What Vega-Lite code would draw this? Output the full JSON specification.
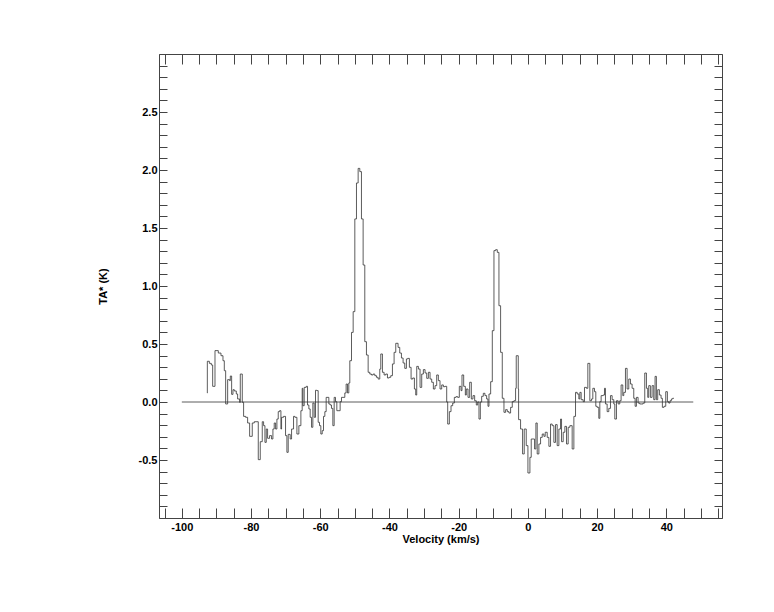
{
  "$schema": "https://vega.github.io/schema/vega-lite/v6.json",
  "width": 563,
  "height": 464,
  "autosize": {"type": "none"},
  "padding": {"left": 159, "top": 54, "right": 52, "bottom": 94},
  "background": "white",
  "config": {
    "view": {"stroke": null},
    "axis": {
      "grid": false,
      "domainColor": "#444444",
      "domainWidth": 1,
      "tickColor": "#444444",
      "tickWidth": 1,
      "labelFont": "Liberation Sans",
      "labelFontWeight": "bold",
      "labelFontSize": 11,
      "labelColor": "black",
      "titleFont": "Liberation Sans",
      "titleFontWeight": "bold",
      "titleFontSize": 11,
      "titleColor": "black"
    }
  },
  "datasets": {
    "spec": [
      {"v": -92.73, "T": 0.078}, {"v": -92.63, "T": 0.351}, {"v": -92.05, "T": 0.333}, {"v": -91.48, "T": 0.319},
      {"v": -91.09, "T": 0.135}, {"v": -90.42, "T": 0.443}, {"v": -89.46, "T": 0.422}, {"v": -88.69, "T": 0.399},
      {"v": -88.11, "T": 0.356}, {"v": -87.73, "T": 0.270}, {"v": -87.34, "T": -0.017}, {"v": -86.76, "T": 0.193},
      {"v": -86.19, "T": 0.184}, {"v": -85.99, "T": 0.224}, {"v": -85.61, "T": 0.066}, {"v": -85.22, "T": 0.106},
      {"v": -84.84, "T": 0.095}, {"v": -84.26, "T": 0.069}, {"v": -83.88, "T": 0.026}, {"v": -83.30, "T": -0.003},
      {"v": -83.11, "T": 0.241}, {"v": -82.53, "T": -0.003}, {"v": -82.15, "T": -0.124}, {"v": -81.57, "T": -0.132},
      {"v": -80.99, "T": -0.181}, {"v": -80.41, "T": -0.296}, {"v": -79.65, "T": -0.181}, {"v": -79.07, "T": -0.170},
      {"v": -77.91, "T": -0.497}, {"v": -77.34, "T": -0.342}, {"v": -76.76, "T": -0.170}, {"v": -76.37, "T": -0.204},
      {"v": -75.99, "T": -0.348}, {"v": -75.60, "T": -0.233}, {"v": -75.22, "T": -0.313}, {"v": -74.64, "T": -0.290},
      {"v": -74.07, "T": -0.319}, {"v": -73.68, "T": -0.233}, {"v": -73.30, "T": -0.181}, {"v": -72.91, "T": -0.233},
      {"v": -72.53, "T": -0.147}, {"v": -72.14, "T": -0.083}, {"v": -71.76, "T": -0.075}, {"v": -71.37, "T": -0.233},
      {"v": -71.18, "T": -0.132}, {"v": -70.60, "T": -0.124}, {"v": -70.03, "T": -0.290}, {"v": -69.64, "T": -0.434},
      {"v": -69.26, "T": -0.279}, {"v": -68.68, "T": -0.319}, {"v": -68.29, "T": -0.233}, {"v": -67.72, "T": -0.124},
      {"v": -67.33, "T": -0.132}, {"v": -66.75, "T": -0.276}, {"v": -66.18, "T": -0.204}, {"v": -65.60, "T": -0.075},
      {"v": -65.22, "T": 0.118}, {"v": -65.02, "T": -0.032}, {"v": -64.64, "T": 0.126}, {"v": -64.06, "T": 0.135},
      {"v": -63.68, "T": -0.026}, {"v": -63.29, "T": -0.060}, {"v": -62.91, "T": -0.132}, {"v": -62.52, "T": -0.218},
      {"v": -62.14, "T": -0.009}, {"v": -61.75, "T": -0.132}, {"v": -61.37, "T": 0.101}, {"v": -60.98, "T": 0.098},
      {"v": -60.60, "T": -0.175}, {"v": -60.21, "T": -0.204}, {"v": -59.83, "T": -0.276}, {"v": -59.44, "T": -0.247},
      {"v": -59.06, "T": -0.124}, {"v": -58.67, "T": -0.083}, {"v": -58.29, "T": 0.040}, {"v": -57.52, "T": -0.017},
      {"v": -57.13, "T": -0.026}, {"v": -56.75, "T": -0.055}, {"v": -56.36, "T": -0.204}, {"v": -55.98, "T": 0.040},
      {"v": -55.59, "T": 0.003}, {"v": -55.21, "T": -0.075}, {"v": -54.25, "T": 0.003}, {"v": -53.86, "T": 0.040},
      {"v": -52.90, "T": 0.078}, {"v": -52.52, "T": 0.155}, {"v": -52.13, "T": 0.078}, {"v": -51.75, "T": 0.164},
      {"v": -51.46, "T": 0.356}, {"v": -50.97, "T": 0.600}, {"v": -50.49, "T": 0.779}, {"v": -50.01, "T": 1.578},
      {"v": -49.53, "T": 1.888}, {"v": -49.05, "T": 2.014}, {"v": -48.57, "T": 1.986}, {"v": -48.09, "T": 1.578},
      {"v": -47.61, "T": 1.181}, {"v": -47.13, "T": 0.520}, {"v": -46.65, "T": 0.405}, {"v": -46.16, "T": 0.256},
      {"v": -45.68, "T": 0.241}, {"v": -45.20, "T": 0.233}, {"v": -44.72, "T": 0.241}, {"v": -44.24, "T": 0.227},
      {"v": -43.76, "T": 0.213}, {"v": -43.28, "T": 0.198}, {"v": -42.80, "T": 0.284}, {"v": -42.51, "T": 0.414},
      {"v": -42.03, "T": 0.256}, {"v": -41.55, "T": 0.233}, {"v": -41.07, "T": 0.241}, {"v": -40.58, "T": 0.207},
      {"v": -40.10, "T": 0.213}, {"v": -39.62, "T": 0.227}, {"v": -39.14, "T": 0.328}, {"v": -38.66, "T": 0.428},
      {"v": -38.18, "T": 0.506}, {"v": -37.51, "T": 0.471}, {"v": -37.03, "T": 0.422}, {"v": -36.54, "T": 0.379},
      {"v": -36.06, "T": 0.336}, {"v": -35.58, "T": 0.290}, {"v": -35.10, "T": 0.371}, {"v": -34.72, "T": 0.376},
      {"v": -34.24, "T": 0.299}, {"v": -33.75, "T": 0.198}, {"v": -33.27, "T": 0.207}, {"v": -32.79, "T": 0.112},
      {"v": -32.41, "T": 0.060}, {"v": -32.12, "T": 0.307}, {"v": -31.64, "T": 0.284}, {"v": -31.16, "T": 0.126},
      {"v": -30.68, "T": 0.241}, {"v": -30.20, "T": 0.279}, {"v": -29.71, "T": 0.250}, {"v": -29.23, "T": 0.204},
      {"v": -28.75, "T": 0.256}, {"v": -28.27, "T": 0.198}, {"v": -27.79, "T": 0.170}, {"v": -27.31, "T": 0.112},
      {"v": -26.83, "T": 0.141}, {"v": -26.35, "T": 0.233}, {"v": -25.87, "T": 0.184}, {"v": -25.39, "T": 0.112},
      {"v": -24.90, "T": 0.147}, {"v": -24.42, "T": 0.132}, {"v": -23.94, "T": 0.135}, {"v": -23.46, "T": 0.000},
      {"v": -23.17, "T": -0.190}, {"v": -22.69, "T": -0.083}, {"v": -22.21, "T": -0.032}, {"v": -21.73, "T": -0.009},
      {"v": -21.25, "T": 0.040}, {"v": -20.77, "T": 0.046}, {"v": -20.29, "T": 0.040}, {"v": -19.81, "T": 0.135},
      {"v": -19.32, "T": 0.098}, {"v": -19.04, "T": 0.233}, {"v": -18.55, "T": 0.135}, {"v": -18.07, "T": 0.060},
      {"v": -17.79, "T": 0.112}, {"v": -17.30, "T": 0.040}, {"v": -16.82, "T": 0.170}, {"v": -16.34, "T": 0.026},
      {"v": -15.86, "T": 0.055}, {"v": -15.38, "T": 0.011}, {"v": -14.90, "T": -0.026}, {"v": -14.51, "T": 0.000},
      {"v": -14.13, "T": -0.147}, {"v": -13.74, "T": 0.000}, {"v": -13.36, "T": 0.049}, {"v": -12.88, "T": 0.075},
      {"v": -12.40, "T": 0.055}, {"v": -11.92, "T": 0.026}, {"v": -11.53, "T": -0.037}, {"v": -11.24, "T": 0.069},
      {"v": -10.76, "T": 0.175}, {"v": -10.28, "T": 0.615}, {"v": -9.80, "T": 1.305}, {"v": -9.32, "T": 1.313},
      {"v": -8.84, "T": 1.290}, {"v": -8.36, "T": 0.830}, {"v": -7.88, "T": 0.428}, {"v": -7.40, "T": 0.032},
      {"v": -6.91, "T": -0.089}, {"v": -6.43, "T": -0.066}, {"v": -5.95, "T": -0.083}, {"v": -5.47, "T": -0.095},
      {"v": -4.99, "T": -0.046}, {"v": -4.51, "T": 0.003}, {"v": -4.03, "T": 0.011}, {"v": -3.55, "T": 0.118},
      {"v": -3.36, "T": 0.399}, {"v": -2.78, "T": 0.112}, {"v": -2.68, "T": -0.152}, {"v": -2.11, "T": -0.233},
      {"v": -1.53, "T": -0.448}, {"v": -1.05, "T": -0.233}, {"v": -0.47, "T": -0.376}, {"v": 0.01, "T": -0.612},
      {"v": 0.59, "T": -0.477}, {"v": 0.97, "T": -0.319}, {"v": 1.93, "T": -0.405}, {"v": 2.32, "T": -0.181},
      {"v": 2.70, "T": -0.448}, {"v": 3.18, "T": -0.362}, {"v": 3.67, "T": -0.305}, {"v": 4.15, "T": -0.276},
      {"v": 4.63, "T": -0.296}, {"v": 5.01, "T": -0.261}, {"v": 5.59, "T": -0.305}, {"v": 6.07, "T": -0.382},
      {"v": 6.55, "T": -0.190}, {"v": 7.03, "T": -0.204}, {"v": 7.51, "T": -0.348}, {"v": 7.99, "T": -0.195},
      {"v": 8.47, "T": -0.376}, {"v": 8.96, "T": -0.233}, {"v": 9.44, "T": -0.147}, {"v": 9.73, "T": -0.342},
      {"v": 10.21, "T": -0.261}, {"v": 10.69, "T": -0.210}, {"v": 11.17, "T": -0.362}, {"v": 11.65, "T": -0.218},
      {"v": 12.13, "T": -0.204}, {"v": 12.80, "T": -0.405}, {"v": 13.29, "T": -0.124}, {"v": 13.77, "T": 0.083},
      {"v": 14.25, "T": 0.069}, {"v": 14.73, "T": 0.026}, {"v": 15.02, "T": 0.083}, {"v": 15.40, "T": 0.020},
      {"v": 15.98, "T": 0.003}, {"v": 16.36, "T": 0.126}, {"v": 16.94, "T": 0.118}, {"v": 17.33, "T": 0.333},
      {"v": 17.90, "T": 0.011}, {"v": 18.38, "T": 0.026}, {"v": 18.77, "T": 0.118}, {"v": 19.25, "T": 0.089},
      {"v": 19.63, "T": -0.037}, {"v": 20.02, "T": -0.046}, {"v": 20.50, "T": -0.141}, {"v": 20.79, "T": 0.003},
      {"v": 21.17, "T": 0.055}, {"v": 21.75, "T": 0.060}, {"v": 22.14, "T": 0.118}, {"v": 22.42, "T": -0.017},
      {"v": 22.91, "T": -0.083}, {"v": 23.39, "T": -0.055}, {"v": 23.87, "T": 0.055}, {"v": 24.35, "T": 0.020},
      {"v": 24.83, "T": -0.017}, {"v": 25.12, "T": -0.147}, {"v": 25.60, "T": 0.011}, {"v": 26.08, "T": -0.017},
      {"v": 26.56, "T": 0.011}, {"v": 26.94, "T": 0.147}, {"v": 27.43, "T": 0.055}, {"v": 27.72, "T": 0.083},
      {"v": 28.20, "T": 0.290}, {"v": 28.68, "T": 0.112}, {"v": 29.16, "T": 0.198}, {"v": 29.64, "T": 0.155},
      {"v": 30.12, "T": 0.118}, {"v": 30.60, "T": 0.032}, {"v": 30.99, "T": -0.037}, {"v": 31.37, "T": 0.040},
      {"v": 31.85, "T": -0.009}, {"v": 32.33, "T": -0.017}, {"v": 33.29, "T": -0.009}, {"v": 33.78, "T": 0.250},
      {"v": 34.26, "T": 0.118}, {"v": 34.64, "T": 0.040}, {"v": 34.93, "T": 0.141}, {"v": 35.41, "T": 0.040},
      {"v": 35.89, "T": 0.141}, {"v": 36.37, "T": 0.020}, {"v": 36.76, "T": 0.221}, {"v": 37.14, "T": 0.020},
      {"v": 37.52, "T": 0.106}, {"v": 38.01, "T": 0.060}, {"v": 38.49, "T": 0.032}, {"v": 38.87, "T": -0.046},
      {"v": 39.35, "T": -0.037}, {"v": 39.84, "T": 0.089}, {"v": 40.32, "T": 0.003}, {"v": 40.70, "T": -0.009},
      {"v": 41.08, "T": 0.011}, {"v": 41.47, "T": 0.026}, {"v": 41.85, "T": 0.032}, {"v": 42.2, "T": 0.032}
    ],
    "base": [
      {"v": -100, "T": 0},
      {"v": 47.8, "T": 0}
    ]
  },
  "layer": [
    {
      "data": {"name": "spec"},
      "mark": {"type": "line", "interpolate": "step-after", "color": "#333333", "strokeWidth": 0.8},
      "encoding": {
        "x": {
          "field": "v",
          "type": "quantitative",
          "scale": {"domain": [-106.6, 56.1], "nice": false, "zero": false},
          "axis": {
            "orient": "bottom",
            "values": [-105, -100, -95, -90, -85, -80, -75, -70, -65, -60, -55, -50, -45, -40, -35, -30, -25, -20, -15, -10, -5, 0, 5, 10, 15, 20, 25, 30, 35, 40, 45, 50, 55],
            "labelExpr": "datum.value % 20 === 0 ? '' + datum.value : ''",
            "tickSize": -10,
            "labelPadding": 13,
            "labelFlush": false,
            "labelOverlap": false,
            "title": "Velocity (km/s)",
            "titlePadding": 1
          }
        },
        "y": {
          "field": "T",
          "type": "quantitative",
          "scale": {"domain": [-1, 3], "nice": false, "zero": false},
          "axis": {
            "orient": "left",
            "values": [-1.0, -0.9, -0.8, -0.7, -0.6, -0.5, -0.4, -0.3, -0.2, -0.1, 0.0, 0.1, 0.2, 0.3, 0.4, 0.5, 0.6, 0.7, 0.8, 0.9, 1.0, 1.1, 1.2, 1.3, 1.4, 1.5, 1.6, 1.7, 1.8, 1.9, 2.0, 2.1, 2.2, 2.3, 2.4, 2.5, 2.6, 2.7, 2.8, 2.9, 3.0],
            "labelExpr": "(abs(datum.value * 2 - round(datum.value * 2)) < 0.001 && datum.value > -0.9 && datum.value < 2.9) ? (datum.value < -0.01 ? '-' + format(-datum.value, '.1f') : format(abs(datum.value), '.1f')) : ''",
            "tickSize": -8,
            "labelPadding": 10,
            "labelFlush": false,
            "labelOverlap": false,
            "title": "TA* (K)",
            "titlePadding": 30
          }
        }
      }
    },
    {
      "data": {"name": "base"},
      "mark": {"type": "line", "color": "#333333", "strokeWidth": 0.8},
      "encoding": {
        "x": {
          "field": "v",
          "type": "quantitative",
          "axis": {
            "orient": "top",
            "values": [-105, -100, -95, -90, -85, -80, -75, -70, -65, -60, -55, -50, -45, -40, -35, -30, -25, -20, -15, -10, -5, 0, 5, 10, 15, 20, 25, 30, 35, 40, 45, 50, 55],
            "labels": false,
            "tickSize": -10,
            "title": null
          }
        },
        "y": {
          "field": "T",
          "type": "quantitative",
          "axis": {
            "orient": "right",
            "values": [-1.0, -0.9, -0.8, -0.7, -0.6, -0.5, -0.4, -0.3, -0.2, -0.1, 0.0, 0.1, 0.2, 0.3, 0.4, 0.5, 0.6, 0.7, 0.8, 0.9, 1.0, 1.1, 1.2, 1.3, 1.4, 1.5, 1.6, 1.7, 1.8, 1.9, 2.0, 2.1, 2.2, 2.3, 2.4, 2.5, 2.6, 2.7, 2.8, 2.9, 3.0],
            "labels": false,
            "tickSize": -8,
            "title": null
          }
        }
      }
    },
    {
      "mark": {"type": "text", "font": "Liberation Sans", "fontWeight": "bold", "fontSize": 11, "color": "black"},
      "encoding": {
        "x": {"datum": 17.2, "type": "quantitative", "axis": null},
        "y": {"datum": 2.82, "type": "quantitative", "axis": null},
        "text": {"value": "04251+5138"}
      }
    }
  ]
}
